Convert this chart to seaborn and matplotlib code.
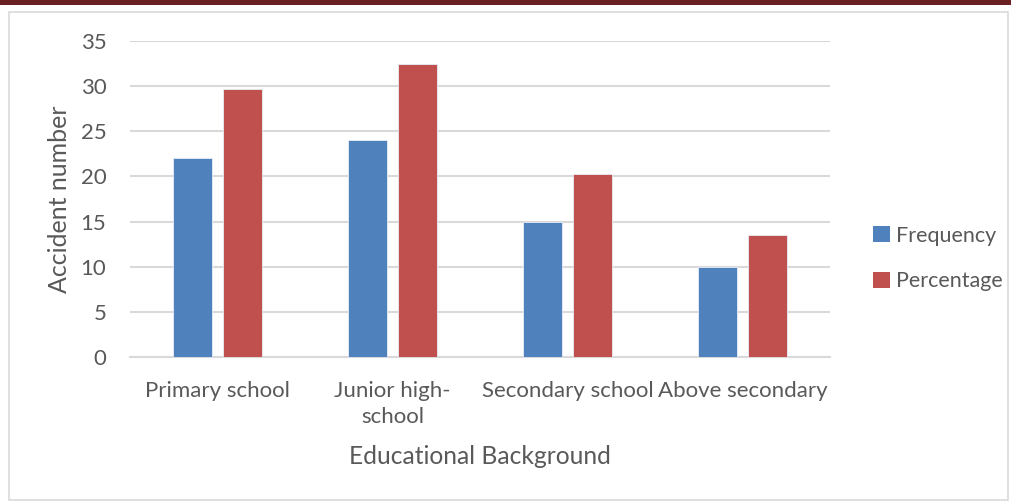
import matplotlib
matplotlib.use("Agg")
import matplotlib.pyplot as plt
import seaborn as sns
import pandas as pd
from matplotlib.patches import Rectangle, Patch

categories = ["Primary school", "Junior high-\nschool", "Secondary school", "Above secondary"]
frequency = [22, 24, 15, 10]
percentage = [29.7, 32.4, 20.3, 13.5]
series_names = ["Frequency", "Percentage"]
yticks = [0, 5, 10, 15, 20, 25, 30, 35]

df = pd.DataFrame({
    "cat": categories * 2,
    "value": frequency + percentage,
    "series": [series_names[0]] * len(categories) + [series_names[1]] * len(categories),
})

sns.set_theme(style="white")
plt.rcParams['font.family'] = ['Lato', 'DejaVu Sans']
text_col = "#595959"
grid_col = "#D9D9D9"
colors = {"Frequency": "#4F81BD", "Percentage": "#C0504D"}

fig = plt.figure(figsize=(10.11, 5.01), dpi=100)
ax = fig.add_axes([130/1011, 1-357/501, 700/1011, 316/501])

sns.barplot(data=df, x="cat", y="value", hue="series", palette=colors, saturation=1,
            width=0.566, gap=0.21, ax=ax, legend=False,
            edgecolor="#E8EEF7", linewidth=0.6, zorder=3)

ax.set_ylim(0, 35)
ax.set_xlim(-0.5, 3.5)
ax.set_yticks(yticks)
ax.yaxis.grid(True, color=grid_col, linewidth=1.5, zorder=0)
ax.set_axisbelow(True)
for s in ["top", "right", "left"]:
    ax.spines[s].set_visible(False)
ax.spines["bottom"].set_color(grid_col)
ax.spines["bottom"].set_linewidth(1.5)
ax.tick_params(axis="y", length=0, labelsize=16, colors=text_col, pad=17)
ax.tick_params(axis="x", length=0, labelsize=16, colors=text_col, pad=17)
ax.set_xticks(range(len(categories)))
ax.set_xticklabels(categories, linespacing=1.4)
ax.set_ylabel("Accident number", fontsize=18, color=text_col)
ax.yaxis.set_label_coords(-0.101, 0.5)
ax.set_xlabel("Educational Background", fontsize=17.7, color=text_col)
ax.xaxis.set_label_coords(0.5, -(457-357)/316)
ax.xaxis.label.set_va("center")
ax.yaxis.label.set_va("center")

handles = [Patch(facecolor=colors[n], edgecolor="none") for n in series_names]
fig.legend(handles, series_names, loc="center left", bbox_to_anchor=(854/1011, 1-258.5/501),
           frameon=False, fontsize=15.5, labelcolor=text_col, handlelength=0.75, handleheight=0.75,
           handletextpad=0.3, labelspacing=1.2)

# outer frame and top band
fig.patches.append(Rectangle((9/1011, 0.002), (1008-9)/1011, 1-12/501-0.002,
                             transform=fig.transFigure, fill=False, edgecolor=grid_col, linewidth=1.2))
fig.patches.append(Rectangle((0, 1-5/501), 1, 5/501, transform=fig.transFigure,
                             facecolor="#6B2023", edgecolor="none"))

fig.savefig("out.png", dpi=100, facecolor="white")
